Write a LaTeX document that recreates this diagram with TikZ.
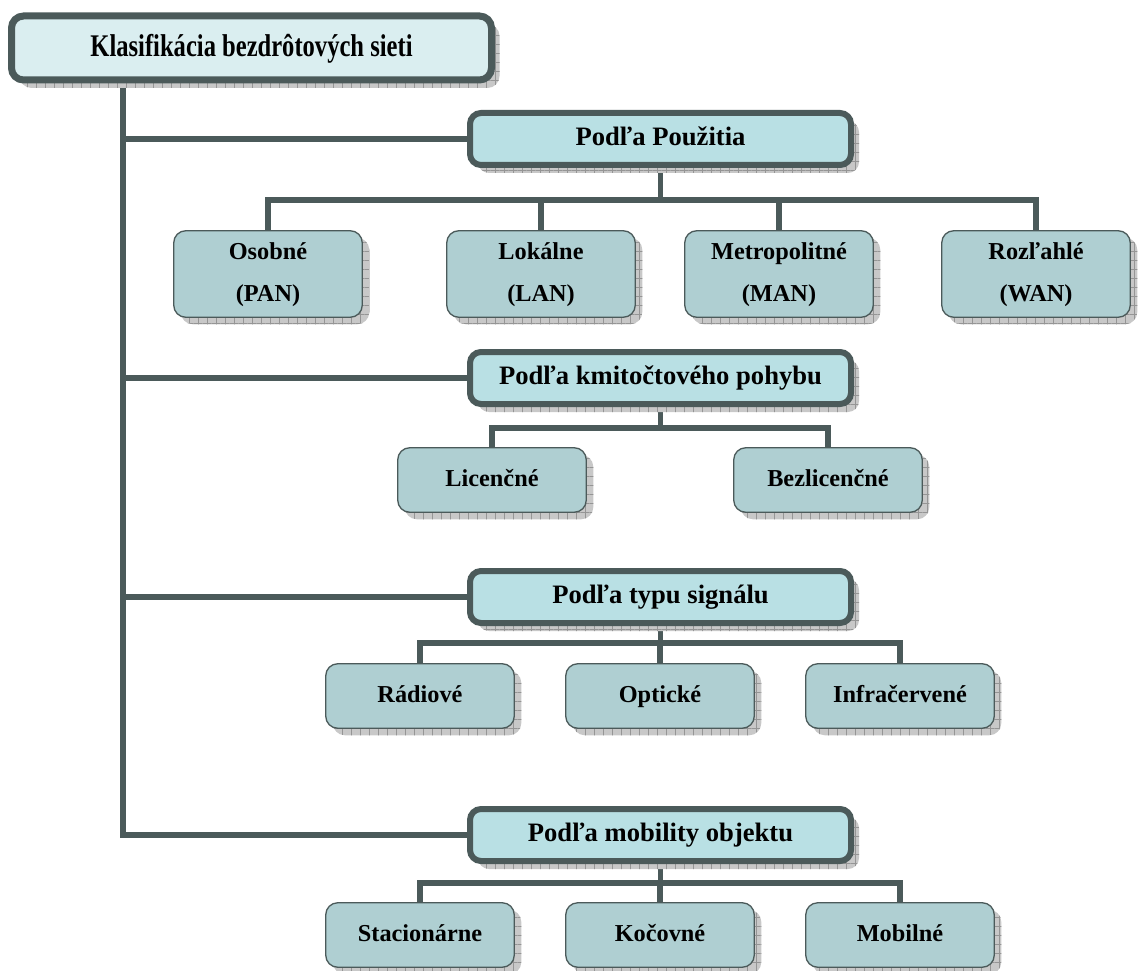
\documentclass[tikz,border=0pt]{standalone}
\usepackage{fontspec}
\setmainfont{Liberation Serif}
\newfontfamily\titlefont[FakeStretch=0.78]{Liberation Serif}
\usetikzlibrary{shadows,patterns.meta,backgrounds}

\definecolor{frameclr}{HTML}{4B5A5A}
\definecolor{rootfill}{HTML}{DAEEF0}
\definecolor{catfill}{HTML}{B9E0E4}
\definecolor{leaffill}{HTML}{AFCFD2}
\definecolor{shadefill}{HTML}{C8C8C8}
\definecolor{shadeline}{HTML}{959595}

\tikzset{
  hatchshadow/.style={
    general shadow={shadow xshift=#1, shadow yshift=-#1, fill=shadefill},
    general shadow={shadow xshift=#1, shadow yshift=-#1,
      pattern={Hatch[angle=0,distance=9pt,line width=0.6pt]}, pattern color=shadeline}
  },
  rootbox/.style={draw=frameclr, line width=7pt, fill=rootfill, rounded corners=12pt,
    minimum width=480pt, minimum height=64pt, inner sep=0pt, hatchshadow=8pt,
    text height=22pt, text depth=5pt,
    font=\titlefont\fontsize{31.5}{34}\selectfont\bfseries},
  catbox/.style={draw=frameclr, line width=6pt, fill=catfill, rounded corners=11pt,
    minimum width=381pt, minimum height=52pt, inner sep=0pt, hatchshadow=8pt,
    text height=19pt, text depth=5.4pt,
    font=\fontsize{26.6}{29}\selectfont\bfseries},
  leafbase/.style={draw=frameclr, line width=1.3pt, fill=leaffill, rounded corners=12pt,
    minimum width=188.5pt, minimum height=64.5pt, inner sep=0pt, hatchshadow=7pt,
    font=\fontsize{24.3}{42}\selectfont\bfseries},
  leafbox/.style={leafbase, text height=17pt, text depth=5pt},
  tallleaf/.style={leafbase, minimum height=86.5pt, align=center},
  conn/.style={draw=frameclr, line width=5.5pt}
}
% struts fixing the height of the first and the depth of the last line
\newcommand{\topstrut}{\rule{0pt}{18pt}}
\newcommand{\botstrut}{\rule[-6pt]{0pt}{6pt}}

\begin{document}
\begin{tikzpicture}[x=1pt,y=-1pt]
\useasboundingbox (0,0) rectangle (1138,971);

% trunk position and the distribution buses
\coordinate (trunk) at (123,0);
\coordinate (bus1) at (0,200);
\coordinate (bus2) at (0,428);
\coordinate (bus3) at (0,643);
\coordinate (bus4) at (0,883);

% root
\node[rootbox] (root) at (251.5,48) {Klasifikácia bezdrôtových sieti};

% categories
\node[catbox] (use)  at (660.5,139) {Podľa Použitia};
\node[catbox] (freq) at (660.5,378) {Podľa kmitočtového pohybu};
\node[catbox] (sig)  at (660.5,597) {Podľa typu signálu};
\node[catbox] (mob)  at (660.5,835) {Podľa mobility objektu};

% leaves of "Podľa Použitia"
\node[tallleaf] (pan) at (268,274)  {\topstrut Osobné\\(PAN)\botstrut};
\node[tallleaf] (lan) at (541,274)  {\topstrut Lokálne\\(LAN)\botstrut};
\node[tallleaf] (man) at (779,274)  {\topstrut Metropolitné\\(MAN)\botstrut};
\node[tallleaf] (wan) at (1036,274) {\topstrut Rozľahlé\\(WAN)\botstrut};

% leaves of "Podľa kmitočtového pohybu"
\node[leafbox] (lic)   at (492,480) {Licenčné};
\node[leafbox] (unlic) at (828,480) {Bezlicenčné};

% leaves of "Podľa typu signálu"
\node[leafbox] (radio) at (420,696) {Rádiové};
\node[leafbox] (opt)   at (660,696) {Optické};
\node[leafbox] (ir)    at (900,696) {Infračervené};

% leaves of "Podľa mobility objektu"
\node[leafbox] (stat)  at (420,935) {Stacionárne};
\node[leafbox] (nomad) at (660,935) {Kočovné};
\node[leafbox] (mobil) at (900,935) {Mobilné};

% connectors, drawn behind the boxes
\begin{scope}[on background layer]
  % trunk with the branches to the categories
  \draw[conn] (root.south -| trunk) |- (mob.west);
  \draw[conn] (trunk |- use.west)  -- (use.west);
  \draw[conn] (trunk |- freq.west) -- (freq.west);
  \draw[conn] (trunk |- sig.west)  -- (sig.west);

  % Podľa Použitia
  \draw[conn] (use.south) -- (use.south |- bus1);
  \draw[conn] (pan.north) |- (bus1 -| wan.north) -- (wan.north);
  \draw[conn] (lan.north) -- (lan.north |- bus1);
  \draw[conn] (man.north) -- (man.north |- bus1);

  % Podľa kmitočtového pohybu
  \draw[conn] (freq.south) -- (freq.south |- bus2);
  \draw[conn] (lic.north) |- (bus2 -| unlic.north) -- (unlic.north);

  % Podľa typu signálu
  \draw[conn] (sig.south) -- (sig.south |- bus3);
  \draw[conn] (radio.north) |- (bus3 -| ir.north) -- (ir.north);
  \draw[conn] (opt.north) -- (opt.north |- bus3);

  % Podľa mobility objektu
  \draw[conn] (mob.south) -- (mob.south |- bus4);
  \draw[conn] (stat.north) |- (bus4 -| mobil.north) -- (mobil.north);
  \draw[conn] (nomad.north) -- (nomad.north |- bus4);
\end{scope}
\end{tikzpicture}
\end{document}
